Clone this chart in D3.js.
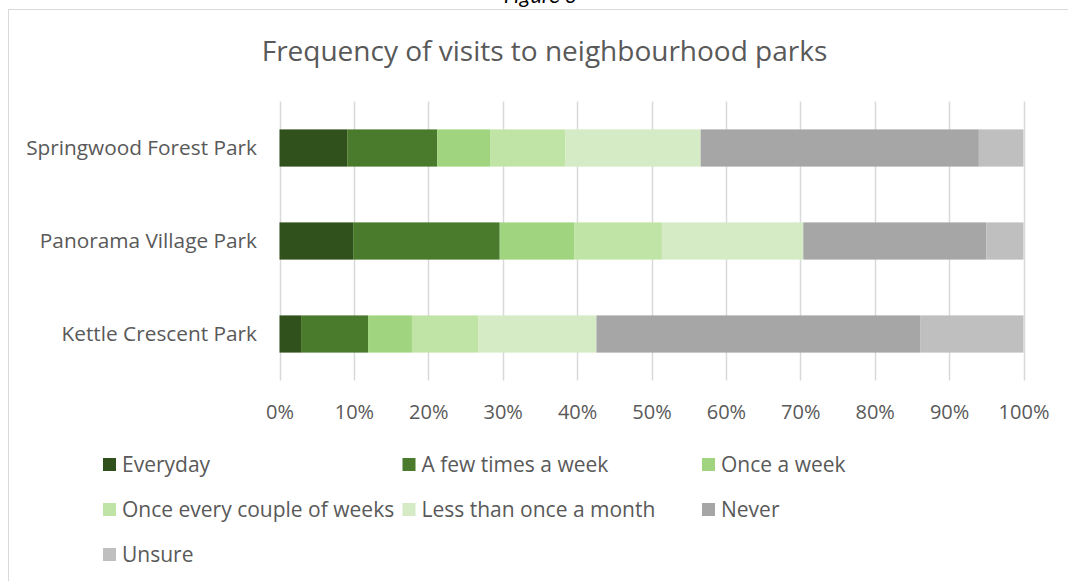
<!DOCTYPE html>
<meta charset="utf-8">
<style>
body { margin: 0; background: #fff; }
text { font-family: "Open Sans", sans-serif; fill: #595959; }
</style>
<body>
<div id="chart"></div>
<script src="https://d3js.org/d3.v7.min.js"></script>
<script>
// parks, top to bottom
var parks = ["Springwood Forest Park", "Panorama Village Park", "Kettle Crescent Park"];

var categories = ["Everyday", "A few times a week", "Once a week",
	"Once every couple of weeks", "Less than once a month", "Never", "Unsure"];

// percent of respondents, one value per park (same order as parks)
var everyday       = [9.1, 9.9, 2.9];
var fewTimesWeek   = [12.1, 19.7, 9.0];
var onceWeek       = [7.1, 10.0, 5.9];
var coupleWeeks    = [10.1, 11.8, 8.9];
var lessThanMonth  = [18.2, 19.0, 15.9];
var never          = [37.4, 24.6, 43.5];
var unsure         = [6.0, 5.0, 13.9];

var xTicks = [0, 0.1, 0.2, 0.3, 0.4, 0.5, 0.6, 0.7, 0.8, 0.9, 1];

var colors = ["#30501c", "#4a7a2b", "#a0d47e", "#c0e3a6", "#d4ebc5", "#a6a6a6", "#bfbfbf"];

var series = [everyday, fewTimesWeek, onceWeek, coupleWeeks, lessThanMonth, never, unsure];

// build rows for d3.stack
var rows = parks.map(function(p, i) {
	var r = { park: p };
	categories.forEach(function(c, j) { r[c] = series[j][i]; });
	return r;
});

var width = 1068,
	height = 581;

var svg = d3.select("#chart").append("svg")
	.attr("width", width)
	.attr("height", height);

// chart frame (runs off the right and bottom of the picture)
svg.append("rect")
	.attr("x", 8.5)
	.attr("y", 9.5)
	.attr("width", 1100)
	.attr("height", 620)
	.attr("fill", "none")
	.attr("stroke", "#d9d9d9");

// figure caption, cut off at the top like in the source
svg.append("text")
	.attr("x", 540)
	.attr("y", 3)
	.attr("text-anchor", "middle")
	.style("font-family", "Carlito, 'Liberation Sans', sans-serif")
	.style("font-style", "italic")
	.style("font-size", "22px")
	.style("fill", "#000")
	.text("Figure 3");

svg.append("text")
	.attr("x", 544.5)
	.attr("y", 61)
	.attr("text-anchor", "middle")
	.style("font-size", "28px")
	.text("Frequency of visits to neighbourhood parks");

var x = d3.scaleLinear()
	.domain([0, 1])
	.range([279.5, 1023.5]);

var y = d3.scaleBand()
	.domain(parks)
	.range([101.5, 380.5])
	.paddingInner(0.6)
	.paddingOuter(0.3);

// gridlines
svg.append("g")
	.selectAll("line")
	.data(xTicks)
	.enter().append("line")
	.attr("x1", function(d) { return Math.round(x(d)) + 0.5; })
	.attr("x2", function(d) { return Math.round(x(d)) + 0.5; })
	.attr("y1", 101.5)
	.attr("y2", 380.5)
	.attr("stroke", "#d9d9d9")
	.attr("stroke-width", 1.5);

var stack = d3.stack().keys(categories);
var stacked = stack(rows);

svg.append("g")
	.selectAll("g")
	.data(stacked)
	.enter().append("g")
	.attr("fill", function(d, i) { return colors[i]; })
	.selectAll("rect")
	.data(function(d) { return d; })
	.enter().append("rect")
	.attr("x", function(d) { return x(d[0] / 100); })
	.attr("width", function(d) { return x(d[1] / 100) - x(d[0] / 100); })
	.attr("y", function(d) { return y(d.data.park); })
	.attr("height", y.bandwidth());

// x axis labels
var xAxis = d3.axisBottom(x)
	.tickValues(xTicks)
	.tickFormat(d3.format(".0%"))
	.tickSize(0)
	.tickPadding(0);

var gx = svg.append("g")
	.attr("transform", "translate(0,405)")
	.call(xAxis);
gx.select(".domain").remove();
gx.selectAll("text")
	.style("font-size", "20px")
	.style("fill", "#595959")
	.style("font-family", "'Open Sans', sans-serif");

// y axis labels
var yAxis = d3.axisLeft(y)
	.tickSize(0)
	.tickPadding(0);

var gy = svg.append("g")
	.attr("transform", "translate(257,0)")
	.call(yAxis);
gy.select(".domain").remove();
gy.selectAll("text")
	.style("font-size", "20.8px")
	.style("fill", "#595959")
	.style("font-family", "'Open Sans', sans-serif");

// legend
var legend = svg.append("g")
	.selectAll("g")
	.data(categories)
	.enter().append("g")
	.attr("transform", function(d, i) {
		return "translate(" + (103 + (i % 3) * 299.5) + "," + (465 + Math.floor(i / 3) * 45) + ")";
	});

legend.append("rect")
	.attr("x", 0)
	.attr("y", -7)
	.attr("width", 13)
	.attr("height", 13)
	.attr("fill", function(d, i) { return colors[i]; });

legend.append("text")
	.attr("x", 19)
	.attr("dy", "0.35em")
	.style("font-size", "21px")
	.text(function(d) { return d; });
</script>
</body>
